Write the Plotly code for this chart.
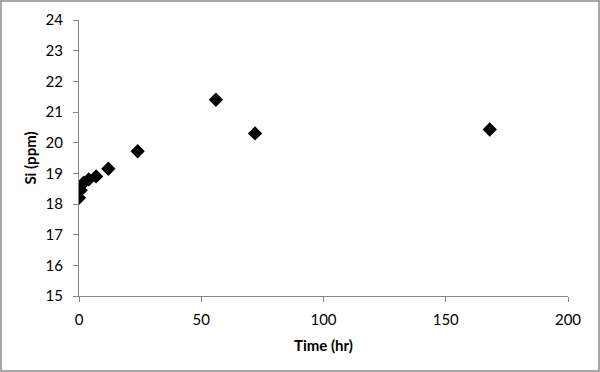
import plotly.graph_objects as go

time_hr = [0, 0.7, 2, 4, 7, 12, 24, 56, 72, 168]
si_ppm = [18.2, 18.45, 18.7, 18.8, 18.9, 19.15, 19.72, 21.4, 20.3, 20.43]

x_ticks = [0, 50, 100, 150, 200]
y_ticks = [15, 16, 17, 18, 19, 20, 21, 22, 23, 24]

FONT = "Lato, Open Sans, sans-serif"

fig = go.Figure(go.Scatter(
    x=time_hr, y=si_ppm, mode="markers",
    marker=dict(symbol="diamond", size=11, color="black"),
))

axis_common = dict(
    showgrid=False, zeroline=False, showline=True, linecolor="#868686", linewidth=1,
    ticks="outside", ticklen=5, tickcolor="#868686", automargin=False,
    tickfont=dict(family=FONT, size=15, color="black"),
)
fig.update_xaxes(range=[0, 200], tickvals=x_ticks, ticklabelstandoff=5, **axis_common,
                 title=dict(text="<b>Time (hr)</b>", font=dict(family=FONT, size=15, color="black"), standoff=13))
fig.update_yaxes(range=[15, 24], tickvals=y_ticks, ticklabelstandoff=7, **axis_common,
                 title=dict(text="<b>Si (ppm)</b>", font=dict(family=FONT, size=15, color="black"), standoff=5))

pw, ph = 489, 276
fig.add_shape(type="rect", xref="paper", yref="paper",
              x0=-78 / pw, x1=1 + 31 / pw, y0=-75 / ph, y1=1 + 19 / ph,
              line=dict(color="#8c8c8c", width=1.5), fillcolor="rgba(0,0,0,0)")

fig.update_layout(
    width=600, height=372,
    margin=dict(l=79, r=32, t=20, b=76, autoexpand=False),
    paper_bgcolor="white", plot_bgcolor="white",
    showlegend=False,
)

fig.write_html("out.html", config={"displayModeBar": False},
               post_script="document.body.style.margin='0';document.body.style.overflow='hidden';")
